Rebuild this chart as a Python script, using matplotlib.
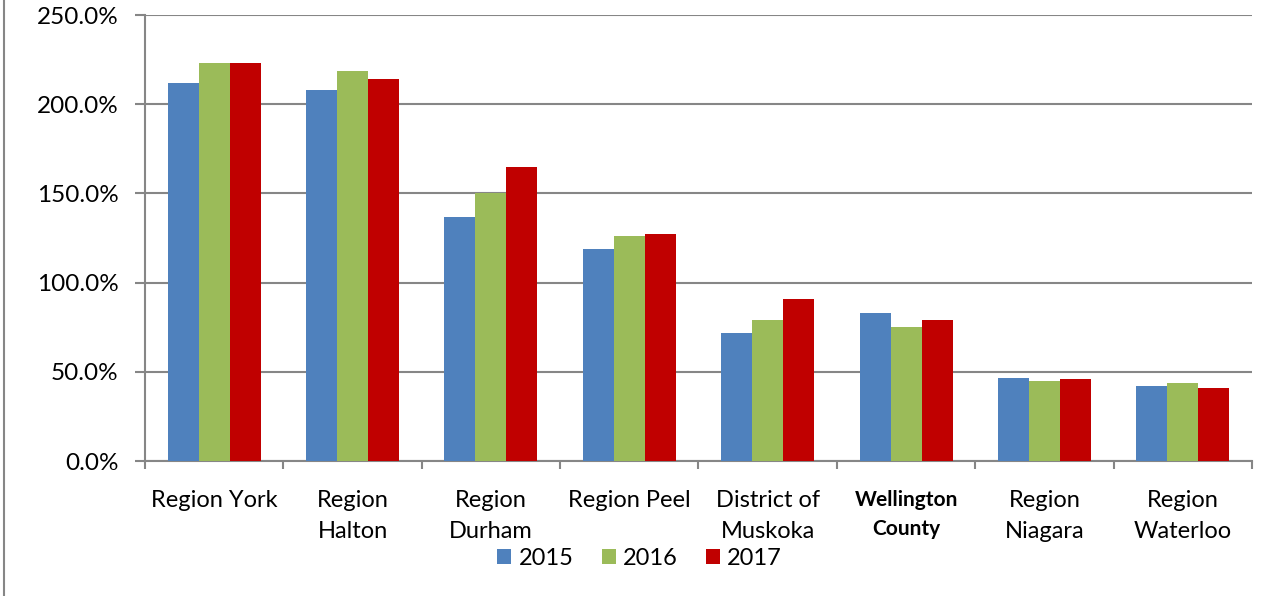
import numpy as np
import matplotlib
matplotlib.use('Agg')
import matplotlib.pyplot as plt
from matplotlib.ticker import PercentFormatter, FixedLocator
from matplotlib.lines import Line2D

plt.rcParams['font.family'] = ['Lato', 'DejaVu Sans']

categories = ['Region York', 'Region\nHalton', 'Region\nDurham', 'Region Peel',
              'District of\nMuskoka', 'Wellington\nCounty', 'Region\nNiagara', 'Region\nWaterloo']
years = ['2015', '2016', '2017']
v2015 = [211.7, 207.8, 136.8, 118.8, 71.9, 82.8, 46.8, 41.9]
v2016 = [222.9, 218.8, 150.1, 126.0, 78.9, 74.9, 44.8, 43.7]
v2017 = [222.9, 214.0, 164.8, 127.1, 90.8, 78.9, 45.8, 40.8]
colors = ['#4F81BD', '#9BBB59', '#C00000']

GRAY = '#868686'

fig = plt.figure(figsize=(12.64, 5.96), dpi=100)
ax = fig.add_axes([0.1147, 0.2265, 0.8758, 0.7483])

x = np.arange(len(categories))
w = 0.224
for i, (vals, col, lab) in enumerate(zip([v2015, v2016, v2017], colors, years)):
    ax.bar(x + (i - 1) * w, vals, width=w, color=col, label=lab, zorder=3,
           edgecolor='none')

ax.set_xlim(-0.5, len(categories) - 0.5)
ax.set_ylim(0, 250)
ax.set_yticks(np.arange(0, 251, 50))
ax.yaxis.set_major_formatter(PercentFormatter(decimals=1))
ax.grid(axis='y', color=GRAY, lw=1.5, zorder=0)

ax.set_xticks(x)
ax.set_xticklabels(categories, fontsize=17, linespacing=1.55)
for lbl in ax.get_xticklabels():
    if lbl.get_text().startswith('Wellington'):
        lbl.set_fontweight('bold')
        lbl.set_fontsize(15)
ax.tick_params(axis='x', which='major', length=0, pad=21)
ax.xaxis.set_minor_locator(FixedLocator(np.arange(-0.5, len(categories), 1)))
ax.tick_params(axis='x', which='minor', length=6, width=1.5, color=GRAY)
ax.tick_params(axis='y', length=7, width=1.5, color=GRAY, labelsize=17.5, pad=12)

for s in ['top', 'right']:
    ax.spines[s].set_visible(False)
for s in ['left', 'bottom']:
    ax.spines[s].set_color(GRAY)
    ax.spines[s].set_linewidth(1.5)

ax.legend(loc='center', bbox_to_anchor=(0.506, 0.063), bbox_transform=fig.transFigure,
          ncol=3, frameon=False, fontsize=17, handlelength=0.6, handleheight=0.6,
          handletextpad=0.3, columnspacing=1.2)

# chart frame edge on the left
fig.add_artist(Line2D([0.0035, 0.0035], [0, 1], transform=fig.transFigure,
                      color=GRAY, lw=1.5))

fig.savefig('out.png', dpi=100)
